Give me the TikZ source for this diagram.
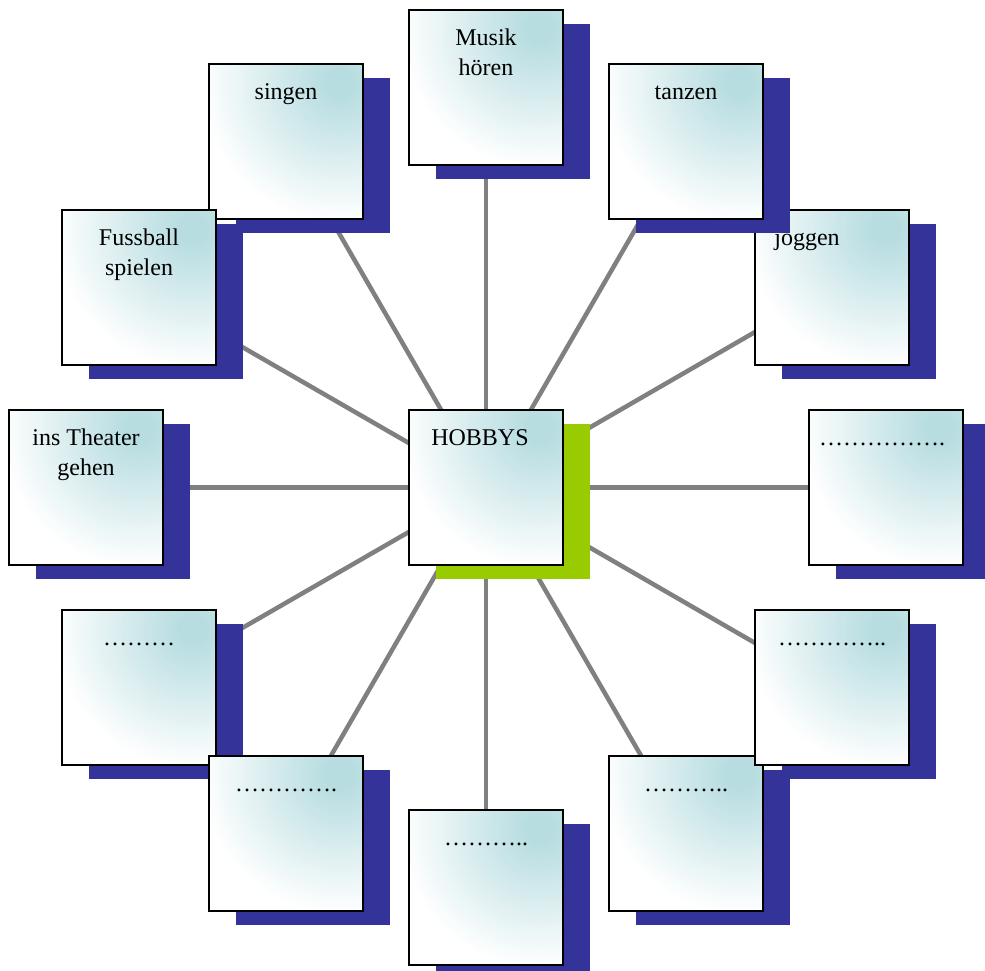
\documentclass[tikz,border=0pt]{standalone}
\usepackage{fontspec}
\setmainfont{Liberation Serif}
\usetikzlibrary{backgrounds}
\definecolor{shadownavy}{HTML}{333399}
\definecolor{shadowgreen}{HTML}{99CC00}
\definecolor{boxteal}{HTML}{B8DDE1}
\definecolor{linegray}{HTML}{808080}
\tikzset{
  hbox/.style={draw=black, line width=1.6pt, minimum width=154pt, minimum height=155pt, inner sep=0pt, outer sep=0pt},
  htext/.style={anchor=north, inner sep=0pt, align=center, font=\fontsize{24}{30}\selectfont},
  conn/.style={draw=linegray, line width=4.5pt},
}
\newcommand\hobbyitem[6]{%
  \fill[#4] (#2+27,#3+14) rectangle ++(154,155);
  \begin{scope}
    \clip (#2,#3) rectangle ++(154,155);
    \fill[white] (#2,#3) rectangle ++(154,155);
    \foreach \k in {0,...,40} {
      \pgfmathsetmacro\rr{140-\k*3.1}
      \pgfmathsetmacro\pp{\k*2.5}
      \fill[boxteal!\pp!white] (#2+131,#3+19) circle[radius=\rr pt];
    }
  \end{scope}
  \node[hbox] (#1) at (#2+77,#3+77.5) {};
  \node[htext] (#1-t) at (#2+77+#6,#3+14) {\strut #5};
}
\begin{document}
\begin{tikzpicture}[x=1pt,y=-1pt]
\useasboundingbox (0,0) rectangle (985,970);
\clip (0,0) rectangle (985,970);
\hobbyitem{hobbys}{409}{410}{shadowgreen}{HOBBYS}{-6}
\hobbyitem{musik}{409}{10}{shadownavy}{Musik\\hören}{0}
\hobbyitem{joggen}{755}{210}{shadownavy}{joggen}{-25}
\hobbyitem{tanzen}{609}{64}{shadownavy}{tanzen}{0}
\hobbyitem{singen}{209}{64}{shadownavy}{singen}{0}
\hobbyitem{fussball}{62}{210}{shadownavy}{Fussball\\spielen}{0}
\hobbyitem{theater}{9}{410}{shadownavy}{ins Theater\\gehen}{0}
\hobbyitem{right}{809}{410}{shadownavy}{…………….}{-4}
\hobbyitem{lowerleft}{62}{610}{shadownavy}{………}{0}
\hobbyitem{bottomleft}{209}{756}{shadownavy}{………….}{0}
\hobbyitem{bottomright}{609}{756}{shadownavy}{………..}{0}
\hobbyitem{lowerright}{755}{610}{shadownavy}{…………..}{0}
\hobbyitem{bottom}{409}{810}{shadownavy}{………..}{0}
\begin{scope}[on background layer]
  \foreach \n in {musik,tanzen,joggen,right,lowerright,bottomright,bottom,bottomleft,lowerleft,theater,fussball,singen}
    \draw[conn] (hobbys.center) -- (\n.center);
\end{scope}
\end{tikzpicture}
\end{document}
